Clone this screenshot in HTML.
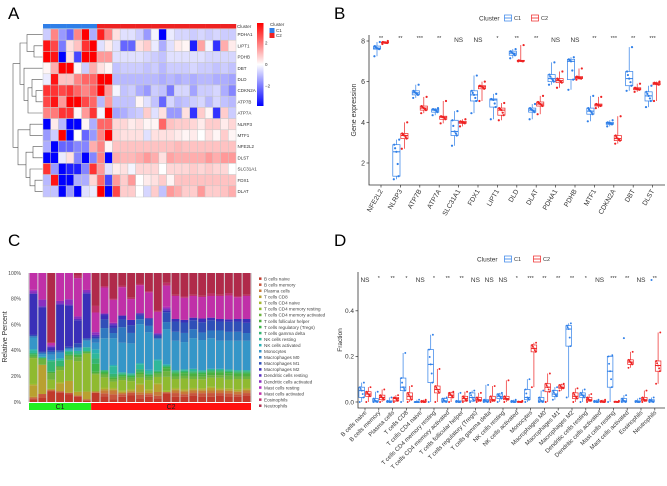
<!DOCTYPE html>
<html><head><meta charset="utf-8"><style>
html,body{margin:0;padding:0;background:#fff}
svg{display:block;font-family:"Liberation Sans",sans-serif}
</style></head><body>
<svg id="fig" width="667" height="486" viewBox="0 0 667 486" xmlns="http://www.w3.org/2000/svg">
<text x="8" y="19" font-size="17">A</text>
<text x="334" y="19" font-size="17">B</text>
<text x="8" y="246" font-size="17">C</text>
<text x="334" y="246" font-size="17">D</text>
<g id="pa"></g>
<g id="pb"></g>
<g id="pc"></g>
<g id="pd"></g>
</svg>
<script>
// ---------- Panel A data ----------
const heatGenes=["PDHA1","LIPT1","PDHB","DBT","DLD","CDKN2A","ATP7B","ATP7A","NLRP3","MTF1","NFE2L2","DLST","SLC31A1","FDX1","DLAT"];
const heatClusters=["C1","C1","C1","C1","C1","C1","C1","C2","C2","C2","C2","C2","C2","C2","C2","C2","C2","C2","C2","C2","C2","C2","C2","C2","C2"];
const heatPDHA1=[-0.5,1.2,-1,-1.5,1.2,2.5,-0.8,2.2,1.2,0.3,-0.3,-0.3,-0.5,-1,-0.1,-2.5,-0.2,-0.4,-0.4,-0.5,-0.4,-0.5,-0.4,-0.5,-0.5];
const heatLIPT1=[2.3,1.8,-1.3,0.3,0.6,2,2.5,-0.3,0.2,-0.3,-1.5,-1.5,0.3,0.5,-0.2,-0.8,-0.3,0.2,0.1,-2.2,0.9,-0.1,-2,0.8,0.2];
const heatPDHB=[2.5,2.3,-2.5,0.3,-1.8,2.5,2.5,1,1,-0.3,-0.3,-0.3,-0.3,-0.4,-0.5,-0.6,-0.3,-0.3,-0.3,-0.3,-0.3,-0.4,-0.4,-0.4,-0.4];
const heatDBT=[0.1,0.8,2.5,2.5,0.1,-0.5,0.8,0.3,0.1,-0.6,-0.5,-0.5,-0.5,-0.6,-0.5,-0.7,-0.5,-0.5,-0.5,-0.4,-0.5,-0.5,-0.6,-0.5,-0.6];
const heatDLD=[-0.2,2.3,0.6,0.6,1.2,1.5,1.5,2.5,2.5,-0.7,-0.7,-0.7,-0.7,-0.7,-0.7,-0.8,-0.7,-0.8,-0.7,-0.8,-0.7,-0.7,-0.8,-0.8,-0.9];
const heatCDKN2A=[2,2,1.8,2,1.5,1.2,1.5,2.5,1,-0.1,-0.6,-0.5,-0.8,-1,-0.5,-0.6,-1.3,-0.4,-0.4,-0.9,-0.5,-0.5,-0.4,-0.8,-1.2];
const heatATP7B=[1.8,2.3,1,2.5,2.5,1.8,1.5,-0.7,1,-0.6,-0.6,-0.6,0.1,-0.3,-0.6,-1.5,-0.4,-0.7,-0.6,-0.5,-0.4,-0.7,-0.4,-0.6,-0.7];
const heatATP7A=[1.2,1.3,2,2,0.1,1,2,-0.1,2.5,-0.9,-0.8,-0.6,-0.5,0.5,-0.3,0.3,-1,-1,0.3,-2,0.5,0.1,-2,0.5,-0.5];
const heatNLRP3=[-2.5,0.2,-0.7,-2.5,-2.5,0.1,-0.8,1.5,1.5,0.4,0.4,0.2,0.3,0.1,0.1,1.5,0.6,0.5,0.5,0.4,0.2,0.5,0.5,0.2,0.4];
const heatMTF1=[-1,-0.5,2.5,-2.5,0,-1.5,-1,1.2,2.5,0.4,0.3,0.3,0.3,-0.3,0.3,0.3,0.3,0.2,0.1,0.2,0,0.3,0.1,0.5,0.1];
const heatNFE2L2=[-0.8,-2.5,-1.5,-1.5,-1.2,-1.2,0.8,1.2,0.1,0.6,0.6,0.6,0.6,0.6,0.6,0.6,0.6,0.7,0.6,0.6,0.6,0.6,0.6,0.6,0.6];
const heatDLST=[-2.5,-2.5,-0.2,0.3,-1.2,-2.5,-1.2,1.2,-2.5,0.8,0.7,0.7,0.8,1,0.8,0.3,0.9,0.8,0.8,0.8,0.8,1,0.8,1,1];
const heatSLC31A1=[2,-1,-2.5,-2.2,-2.2,-1.2,2,1,-0.3,0.2,0.3,-0.1,0.4,0.4,0.4,0,0.4,0.4,0.4,0.5,0.4,0.5,0.4,0.4,0];
const heatFDX1=[-0.7,2.3,-2.5,-2.5,-0.8,-0.8,0.4,1.5,-1.8,1,0.5,1,0,0.2,0.3,0.5,0.1,0.6,0.6,0.6,0.6,0.6,0.6,0.6,0.6];
const heatDLAT=[-0.6,-0.6,-2.5,-1,-2.5,-0.3,-0.2,2.5,-2.5,1.8,0.5,0.5,0,-0.4,0.5,-0.6,1,0.8,0.5,0.5,1,0.5,0.5,0.6,0.8];
const heatRows=[heatPDHA1,heatLIPT1,heatPDHB,heatDBT,heatDLD,heatCDKN2A,heatATP7B,heatATP7A,heatNLRP3,heatMTF1,heatNFE2L2,heatDLST,heatSLC31A1,heatFDX1,heatDLAT];
const heatLegendTicks=[2,0,-2];

// ---------- Panel B data ----------
const bGenes=["NFE2L2","NLRP3","ATP7B","ATP7A","SLC31A1","FDX1","LIPT1","DLD","DLAT","PDHA1","PDHB","MTF1","CDKN2A","DBT","DLST"];
const bC1Min=[7.25,1.2,5.2,4.35,2.85,4.45,4.15,7.15,4.15,5.85,5.6,4.05,3.8,5.55,4.75];
const bC1Q1=[7.6,1.35,5.35,4.5,3.35,5.05,4.75,7.3,4.5,6.0,6.1,4.4,3.9,5.8,5.05];
const bC1Med=[7.65,2.55,5.45,4.6,3.55,5.35,5.1,7.4,4.6,6.15,7.0,4.55,3.95,6.15,5.3];
const bC1Q3=[7.75,2.9,5.55,4.65,4.1,5.55,5.15,7.5,4.7,6.35,7.1,4.7,4.0,6.5,5.5];
const bC1Max=[7.95,3.15,5.85,4.7,4.55,6.3,5.4,7.6,4.9,6.95,7.2,5.3,4.1,7.7,5.8];
const bC2Min=[7.85,2.7,4.45,3.95,3.8,5.05,4.1,7.0,4.4,5.7,6.1,4.7,2.95,5.5,5.05];
const bC2Q1=[7.9,3.2,4.6,4.15,3.95,5.65,4.35,7.0,4.8,5.95,6.15,4.8,3.1,5.6,5.85];
const bC2Med=[7.92,3.35,4.7,4.25,4.0,5.75,4.6,7.02,4.9,6.05,6.2,4.85,3.2,5.65,5.9];
const bC2Q3=[7.95,3.45,4.8,4.3,4.05,5.8,4.7,7.05,5.0,6.15,6.25,4.9,3.35,5.7,5.95];
const bC2Max=[8.0,4.0,5.25,5.05,4.15,6.0,4.95,7.8,5.3,6.5,6.65,5.25,4.3,5.9,6.0];
const bSig=["**","**","***","**","NS","NS","*","**","**","NS","NS","**","***","**","***"];
const bYTicks=[2,4,6,8];

// ---------- Panel C data ----------
const cCellTypes=["B cells naive","B cells memory","Plasma cells","T cells CD8","T cells CD4 naive","T cells CD4 memory resting","T cells CD4 memory activated","T cells follicular helper","T cells regulatory (Tregs)","T cells gamma delta","NK cells resting","NK cells activated","Monocytes","Macrophages M0","Macrophages M1","Macrophages M2","Dendritic cells resting","Dendritic cells activated","Mast cells resting","Mast cells activated","Eosinophils","Neutrophils"];
const cGroups=["C1","C1","C1","C1","C1","C1","C1","C2","C2","C2","C2","C2","C2","C2","C2","C2","C2","C2","C2","C2","C2","C2","C2","C2","C2"];
const cSamples=[
[2,1,1,9,1,20,1,1,1,1,2,1,9,1,1,32,0,2,1,13,0,0],
[3,3,0,22,0,0,4,1,0,0,1,0,2,1,1,33,1,5,0,20,0,0],
[8,1,0,1,0,7,5,1,0,8,1,0,4,2,1,2,1,1,0,2,0,53],
[7,1,0,6,1,9,2,1,0,4,1,1,4,1,1,34,1,2,0,21,0,0],
[6,1,0,9,0,16,3,1,0,2,1,0,1,1,1,31,1,4,0,20,0,0],
[4,1,0,3,0,24,3,1,1,1,2,0,2,1,3,18,1,2,0,30,2,2],
[1,1,0,6,0,29,1,0,1,0,3,0,5,1,1,34,1,2,0,13,0,0],
[7,0,1,0,0,13,1,1,6,4,4,3,5,3,1,1,1,2,0,15,5,25],
[4,2,2,1,1,7,2,1,1,1,0,0,22,7,6,3,1,0,0,18,1,9],
[2,4,3,1,1,5,2,1,1,2,6,1,21,4,4,2,1,1,0,18,1,20],
[4,2,1,1,1,8,2,1,1,1,1,0,23,12,6,3,0,0,0,22,1,10],
[5,2,1,1,1,6,2,1,1,1,1,0,23,8,6,4,0,0,0,16,1,19],
[3,3,2,6,1,5,3,1,1,2,4,1,32,4,3,1,1,0,0,23,1,9],
[4,2,1,2,1,7,2,1,1,1,2,1,29,5,5,1,0,0,0,20,1,14],
[3,2,3,6,1,5,2,1,1,1,8,1,16,1,2,1,0,1,0,17,1,30],
[6,1,0,0,1,10,4,2,1,1,0,1,25,5,7,1,1,1,1,15,2,7],
[4,3,2,1,1,7,2,2,1,1,1,0,23,7,8,2,0,0,0,18,1,17],
[4,2,2,1,1,8,2,2,1,1,1,0,21,7,8,2,0,0,0,17,1,18],
[5,2,2,1,1,7,2,2,1,1,2,0,24,7,7,2,0,0,0,17,1,17],
[4,3,2,1,1,7,2,2,1,1,1,0,24,6,8,3,0,0,0,17,1,18],
[4,3,2,2,1,7,2,2,1,1,1,0,24,6,8,2,0,0,0,17,2,16],
[5,2,2,1,1,8,2,2,1,1,1,0,22,8,7,2,0,0,0,18,1,17],
[4,3,2,1,1,7,3,2,1,1,1,0,23,7,8,2,0,0,0,19,2,16],
[4,2,2,1,1,8,2,2,1,1,1,0,23,7,8,2,0,0,0,17,1,18],
[5,2,2,1,1,7,2,2,1,1,1,0,23,6,8,3,0,0,0,18,1,17]];
const cYTicks=[0,20,40,60,80,100];

// ---------- Panel D data ----------
const dCells=["B cells naive","B cells memory","Plasma cells","T cells CD8","T cells CD4 naive","T cells CD4 memory resting","T cells CD4 memory activated","T cells follicular helper","T cells regulatory (Tregs)","T cells gamma delta","NK cells resting","NK cells activated","Monocytes","Macrophages M0","Macrophages M1","Macrophages M2","Dendritic cells resting","Dendritic cells activated","Mast cells resting","Mast cells activated","Eosinophils","Neutrophils"];
const dC1Min=[0,0,0,0,0,0,0,0,0,0,0,0,0,0,0.01,0.02,0,0,0,0,0,0];
const dC1Q1=[0.02,0,0,0.05,0,0.085,0,0,0.005,0,0.015,0,0.01,0,0.025,0.245,0.02,0,0.065,0,0,0];
const dC1Med=[0.05,0.005,0,0.065,0,0.165,0.005,0,0.02,0.005,0.025,0,0.02,0.005,0.035,0.32,0.03,0,0.135,0.005,0,0.005];
const dC1Q3=[0.065,0.015,0.005,0.105,0,0.23,0.015,0.005,0.04,0.01,0.035,0.005,0.055,0.02,0.05,0.335,0.04,0.005,0.2,0.015,0.005,0.01];
const dC1Max=[0.085,0.045,0.02,0.215,0.01,0.295,0.02,0.04,0.05,0.075,0.04,0.01,0.1,0.05,0.065,0.345,0.055,0.01,0.205,0.03,0.015,0.02];
const dC2Min=[0,0,0,0,0,0,0,0,0,0,0,0,0.065,0,0.05,0,0,0,0,0.15,0,0.08];
const dC2Q1=[0.025,0.01,0.005,0.01,0,0.04,0.02,0.005,0.005,0.005,0.01,0,0.22,0.045,0.06,0.015,0.005,0,0,0.165,0.005,0.135];
const dC2Med=[0.035,0.02,0.015,0.025,0,0.055,0.03,0.015,0.01,0.01,0.015,0,0.235,0.065,0.065,0.025,0.01,0,0,0.175,0.01,0.16];
const dC2Q3=[0.045,0.03,0.02,0.04,0.005,0.07,0.04,0.025,0.02,0.025,0.025,0.002,0.25,0.08,0.075,0.04,0.02,0.005,0.002,0.185,0.02,0.18];
const dC2Max=[0.065,0.055,0.03,0.07,0.01,0.145,0.045,0.045,0.04,0.07,0.095,0.005,0.26,0.125,0.08,0.06,0.035,0.01,0.005,0.22,0.05,0.305];
const dC1OutIdx=[19,21];
const dC1OutVal=[0.28,0.535];
const dSig=["NS","*","**","*","NS","*","**","**","NS","NS","NS","*","***","**","**","**","*","NS","***","**","NS","**"];
const dYTicks=[0,0.2,0.4];

// ---------- helpers ----------
const NS="http://www.w3.org/2000/svg";
function mk(parent,tag,attrs,txt){const e=document.createElementNS(NS,tag);for(const k in attrs)e.setAttribute(k,attrs[k]);if(txt!==undefined)e.textContent=txt;parent.appendChild(e);return e;}
const BLUE="#2f7fe8", RED="#ee2222";

// ---------- Panel A ----------
(function(){
const g=document.getElementById('pa');
const x0=43,x1=236,y0=29,y1=197;
const nC=heatClusters.length,nR=heatGenes.length;
const cw=(x1-x0)/nC,rh=(y1-y0)/nR;
function col(v){let t=Math.max(-1,Math.min(1,v/2.5));let r,gg,b;if(t>=0){r=255;gg=Math.round(255*(1-t));b=gg;}else{b=255;r=Math.round(255*(1+t));gg=r;}return `rgb(${r},${gg},${b})`;}
heatClusters.forEach((c,j)=>{
  const e=mk(g,'rect',{x:x0+j*cw,y:24,width:cw+0.2,height:4.5,fill:c==="C1"?BLUE:RED});
  
  
});
let t=mk(g,'text',{x:237,y:28,'font-size':4.5,fill:'#333'},'Cluster');


heatRows.forEach((row,i)=>{
  row.forEach((v,j)=>{
    const e=mk(g,'rect',{x:x0+j*cw,y:y0+i*rh,width:cw,height:rh,fill:col(v),stroke:'#c8c8c8','stroke-width':0.5});
    
    
  });
  const l=mk(g,'text',{x:237.5,y:y0+i*rh+rh/2+1.6,'font-size':4.5,fill:'#333'},heatGenes[i]);
  
  
});
// dendrogram (structure only)
const tree=[13,[20,[27,0,[34,1,2]],[24,3,[28,[32,4,[36,5,6]],7]]],[18,[30,8,9],[26,[33,10,11],[30,12,[35,13,14]]]]];
function draw(n){if(typeof n==="number"){return {x:42.5,y:y0+n*rh+rh/2};}
  const a=draw(n[1]),b=draw(n[2]);
  const p=mk(g,'path',{d:`M${a.x},${a.y}H${n[0]}V${b.y}H${b.x}`,fill:'none',stroke:'#555','stroke-width':0.6});
  
  
  return {x:n[0],y:(a.y+b.y)/2};}
draw(tree);
const defs=mk(g,'defs',{});
const lg=mk(defs,'linearGradient',{id:'hg',x1:0,y1:0,x2:0,y2:1});
mk(lg,'stop',{offset:'0',"stop-color":'#ff0000'});mk(lg,'stop',{offset:'0.5',"stop-color":'#ffffff'});mk(lg,'stop',{offset:'1',"stop-color":'#0000ff'});
const cb=mk(g,'rect',{x:257,y:23,width:6.5,height:83,fill:'url(#hg)'});


heatLegendTicks.forEach(v=>{const yy=64.5-v*10.7;
  const e=mk(g,'text',{x:265,y:yy+1.5,'font-size':4.5,fill:'#333'},v===-2?'−2':String(v));
  
  });
t=mk(g,'text',{x:270,y:26,'font-size':4.5,fill:'#333'},'Cluster');


["C1","C2"].forEach((c,k)=>{
  const r=mk(g,'rect',{x:269.5,y:28+k*5,width:5,height:5,fill:c==="C1"?BLUE:RED});
  
  
  const tt=mk(g,'text',{x:276,y:32+k*5,'font-size':4.5,fill:'#333'},c);
  
  
});
})();

// ---------- box plot helper ----------
function boxPanel(g,opt){
  const {cats,c1,c2,y,cx,hw,off,fsTick}=opt;
  cats.forEach((name,i)=>{
    [[c1,BLUE,-off,'c1'],[c2,RED,off,'c2']].forEach(([s,color,o,lab])=>{
      const x=cx(i)+o;
      const w=mk(g,'line',{x1:x,x2:x,y1:y(s.min[i]),y2:y(s.max[i]),stroke:color,'stroke-width':0.7});
      
      
      const b=mk(g,'rect',{x:x-hw,y:y(s.q3[i]),width:2*hw,height:Math.max(0.3,y(s.q1[i])-y(s.q3[i])),fill:'#fff',stroke:color,'stroke-width':0.7});
      
      
      const m=mk(g,'line',{x1:x-hw,x2:x+hw,y1:y(s.med[i]),y2:y(s.med[i]),stroke:color,'stroke-width':1});
      
      
      const jit=[-1.2,1,0,-1,1.3,0.6,-0.6];
      const vals=[s.min[i],s.q1[i],s.med[i],s.q3[i],s.max[i],(s.q1[i]+s.med[i])/2,(s.q3[i]+s.med[i])/2];
      vals.forEach((v,k)=>{
        const p=mk(g,'circle',{cx:x+jit[k]*hw*0.6,cy:y(v),r:opt.pr,fill:color});
        
        
      });
    });
  });
}

// ---------- Panel B ----------
(function(){
const g=document.getElementById('pb');
const y=v=>41+(8-v)*20.33, cx=i=>381+i*19.4;
boxPanel(g,{cats:bGenes,c1:{min:bC1Min,q1:bC1Q1,med:bC1Med,q3:bC1Q3,max:bC1Max},c2:{min:bC2Min,q1:bC2Q1,med:bC2Med,q3:bC2Q3,max:bC2Max},y,cx,hw:3.6,off:4,pr:1.1});
let a=mk(g,'path',{d:'M369,35V185H665',fill:'none',stroke:'#333','stroke-width':0.8});


bYTicks.forEach(v=>{
  const tk=mk(g,'line',{x1:366.5,x2:369,y1:y(v),y2:y(v),stroke:'#333','stroke-width':0.7});
  
  
  const tl=mk(g,'text',{x:365,y:y(v)+2.5,'font-size':7,'text-anchor':'end',fill:'#333'},String(v));
  
  
});
bGenes.forEach((n,i)=>{
  const tk=mk(g,'line',{x1:cx(i),x2:cx(i),y1:185,y2:187.5,stroke:'#333','stroke-width':0.7});
  
  
  const tl=mk(g,'text',{x:cx(i)+2,y:191,'font-size':6.8,'text-anchor':'end',fill:'#333',transform:`rotate(-60 ${cx(i)+2} 191)`},n);
  
  
  const s=mk(g,'text',{x:cx(i),y:bSig[i]==="NS"?42:40,'font-size':bSig[i]==="NS"?6.5:5.5,'text-anchor':'middle',fill:'#333'},bSig[i]);
  
  
});
let t=mk(g,'text',{x:356,y:110,'font-size':7,'text-anchor':'middle',fill:'#333',transform:'rotate(-90 356 110)'},'Gene expression');


legend(g,479,18,508,535);
})();

function legend(g,tx,ty,x1,x2){
  let t=mk(g,'text',{x:tx,y:ty+2.5,'font-size':6.5,fill:'#333'},'Cluster');
  
  
  [[x1,BLUE,'C1'],[x2,RED,'C2']].forEach(([x,c,l])=>{
    const r=mk(g,'rect',{x:x-3.5,y:ty-3,width:7,height:6,fill:'#fff',stroke:c,'stroke-width':0.7});
    
    
    const ln=mk(g,'line',{x1:x-3.5,x2:x+3.5,y1:ty,y2:ty,stroke:c,'stroke-width':0.8});
    
    
    const lt=mk(g,'text',{x:x+6,y:ty+2,'font-size':5.5,fill:'#333'},l);
    
    
  });
}

// ---------- Panel C ----------
(function(){
const g=document.getElementById('pc');
const colors=["#c0392b","#c8553d","#c87a3a","#b9a030","#a8b830","#8fba30","#6db33f","#4caf3f","#3cb54a","#35b572","#2fb89a","#2ab0b5","#3596c8","#2f78c0","#2f4fb8","#3a2fb8","#5a2fc0","#8a2fc0","#b030c0","#c030a8","#c0306a","#b02a4a"];
const top=273,bot=402,x0=29,step=(251-29)/cSamples.length;
const y=p=>bot-(bot-top)*p/100;
const bg=mk(g,'rect',{x:28,y:top,width:224,height:bot-top,fill:'#d8d8d8'});


cSamples.forEach((s,i)=>{
  const tot=s.reduce((a,b)=>a+b,0);let acc=0;
  s.forEach((v,k)=>{
    const p0=acc/tot*100;acc+=v;const p1=acc/tot*100;
    if(v<=0)return;
    const r=mk(g,'rect',{x:x0+i*step+0.5,y:y(p1),width:step-1,height:y(p0)-y(p1),fill:colors[k]});
    
    
  });
});
let gx=x0;
["C1","C2"].forEach((grp,k)=>{
  const n=cGroups.filter(c=>c===grp).length;
  const r=mk(g,'rect',{x:gx,y:403,width:n*step,height:7,fill:k===0?'#22ee22':'#ff1010'});
  
  
  const t=mk(g,'text',{x:gx+n*step/2,y:409,'font-size':7,'text-anchor':'middle',fill:'#222'},grp);
  
  
  gx+=n*step;
});
cYTicks.forEach(v=>{
  const t=mk(g,'text',{x:21,y:y(v)+1.8,'font-size':5,'text-anchor':'end',fill:'#444'},v+'%');
  
  
});
let t=mk(g,'text',{x:7,y:337,'font-size':7,'text-anchor':'middle',fill:'#333',transform:'rotate(-90 7 337)'},'Relative Percent');


cCellTypes.forEach((n,k)=>{
  const yy=279+k*6.05;
  const r=mk(g,'rect',{x:259,y:yy-1.6,width:2.5,height:2.5,fill:colors[k]});
  
  
  const lt=mk(g,'text',{x:264,y:yy+1.4,'font-size':4.6,fill:'#444'},n);
  
  
});
})();

// ---------- Panel D ----------
(function(){
const g=document.getElementById('pd');
const y=v=>402-v*228, cx=i=>365+i*13.8;
boxPanel(g,{cats:dCells,c1:{min:dC1Min,q1:dC1Q1,med:dC1Med,q3:dC1Q3,max:dC1Max},c2:{min:dC2Min,q1:dC2Q1,med:dC2Med,q3:dC2Q3,max:dC2Max},y,cx,hw:2.8,off:3.3,pr:0.95});
dC1OutIdx.forEach((i,k)=>{
  const p=mk(g,'circle',{cx:cx(i)-3.3,cy:y(dC1OutVal[k]),r:1,fill:BLUE});
  
  
});
let a=mk(g,'path',{d:'M358,272V408H665',fill:'none',stroke:'#333','stroke-width':0.8});


dYTicks.forEach(v=>{
  const tk=mk(g,'line',{x1:355.5,x2:358,y1:y(v),y2:y(v),stroke:'#333','stroke-width':0.7});
  
  
  const tl=mk(g,'text',{x:354,y:y(v)+2.3,'font-size':6.5,'text-anchor':'end',fill:'#333'},v.toFixed(1));
  
  
});
dCells.forEach((n,i)=>{
  const tk=mk(g,'line',{x1:cx(i),x2:cx(i),y1:408,y2:410.5,stroke:'#333','stroke-width':0.7});
  
  
  const tl=mk(g,'text',{x:cx(i)+2,y:413,'font-size':6,'text-anchor':'end',fill:'#333',transform:`rotate(-45 ${cx(i)+2} 413)`},n);
  
  
  const s=mk(g,'text',{x:cx(i),y:dSig[i]==="NS"?282:280,'font-size':dSig[i]==="NS"?6.5:5.5,'text-anchor':'middle',fill:'#333'},dSig[i]);
  
  
});
let t=mk(g,'text',{x:342,y:340,'font-size':6.5,'text-anchor':'middle',fill:'#333',transform:'rotate(-90 342 340)'},'Fraction');


legend(g,477,259,508,537);
})();
</script>
</body></html>
